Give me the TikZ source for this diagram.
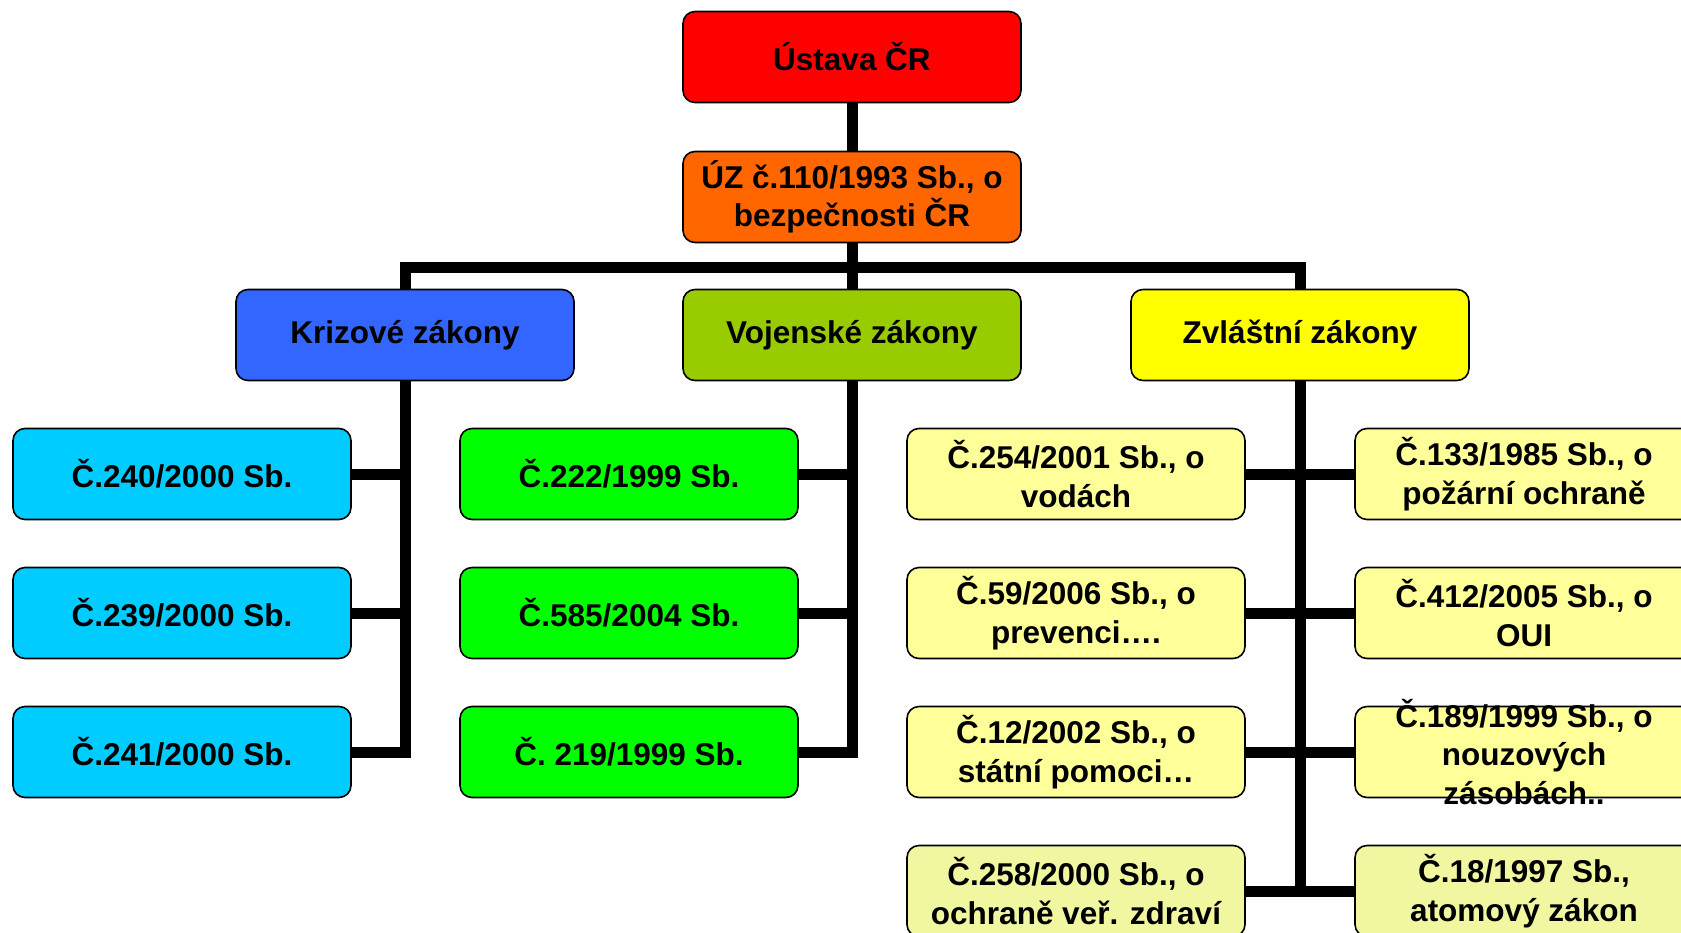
\documentclass[tikz,border=0pt]{standalone}
\usepackage{fontspec}
\setmainfont{Liberation Sans}

\definecolor{ustavared}{HTML}{FF0000}
\definecolor{uzorange}{HTML}{FF6600}
\definecolor{krizeblue}{HTML}{3366FF}
\definecolor{vojskoolive}{HTML}{99CC00}
\definecolor{zvlastyellow}{HTML}{FFFF00}
\definecolor{krizesky}{HTML}{00CCFF}
\definecolor{vojskogreen}{HTML}{00FF00}
\definecolor{zvlastpale}{HTML}{FFFF99}
\definecolor{zvlastlime}{HTML}{F0F7A0}

\begin{document}
\begin{tikzpicture}[x=0.5pt, y=-0.5pt,
  lawfont/.style = {font=\bfseries\fontsize{15.75}{19.3}\selectfont},
  box/.style = {draw, line width=0.8pt, rounded corners=6pt, lawfont,
    minimum width=169pt, minimum height=45.5pt, inner sep=0pt, align=center},
  ustava/.style = {box, fill=ustavared},
  uz/.style = {box, fill=uzorange},
  krize/.style = {box, fill=krizeblue},
  vojsko/.style = {box, fill=vojskoolive},
  zvlast/.style = {box, fill=zvlastyellow},
  krizebox/.style = {box, fill=krizesky},
  vojskobox/.style = {box, fill=vojskogreen},
  zvlastbox/.style = {box, fill=zvlastpale},
  zvlastlast/.style = {box, fill=zvlastlime},
  wire/.style = {line width=5.5pt},
  ]
  \useasboundingbox (0,0) rectangle (1681,932);

  \node[ustava] (ustava) at (852,57) {Ústava ČR};
  \node[uz] (uz) at (852,197) {ÚZ č.110/1993 Sb., o\\bezpečnosti ČR};
  \node[krize] (krize) at (405,335) {Krizové zákony};
  \node[vojsko] (vojsko) at (852,335) {Vojenské zákony};
  \node[zvlast] (zvlast) at (1300,335) {Zvláštní zákony};
  \coordinate (bar) at (852,267);

  \node[krizebox] (k1) at (182,474) {Č.240/2000 Sb.};
  \node[krizebox] (k2) at (182,613) {Č.239/2000 Sb.};
  \node[krizebox] (k3) at (182,752) {Č.241/2000 Sb.};

  \node[vojskobox] (v1) at (629,474) {Č.222/1999 Sb.};
  \node[vojskobox] (v2) at (629,613) {Č.585/2004 Sb.};
  \node[vojskobox] (v3) at (629,752) {Č. 219/1999 Sb.};

  \node[zvlastbox] (zl1) at (1076,474) {Č.254/2001 Sb., o\\vodách};
  \node[zvlastbox] (zl2) at (1076,613) {Č.59/2006 Sb., o\\prevenci….};
  \node[zvlastbox] (zl3) at (1076,752) {Č.12/2002 Sb., o\\státní pomoci…};
  \node[zvlastlast] (zl4) at (1076,891) {Č.258/2000 Sb., o\\ochraně veř. zdraví};

  \node[zvlastbox] (zr1) at (1524,474) {Č.133/1985 Sb., o\\požární ochraně};
  \node[zvlastbox] (zr2) at (1524,613) {Č.412/2005 Sb., o\\OUI};
  \node[zvlastbox] (zr3) at (1524,752) {};
  \node[lawfont, align=center] (zr3text) at (zr3)
    {Č.189/1999 Sb., o\\nouzových\\zásobách..};
  \node[zvlastlast] (zr4) at (1524,891) {Č.18/1997 Sb.,\\atomový zákon};

  \draw[wire] (ustava.south) -- (uz.north);
  \draw[wire] (uz.south) -- (vojsko.north);
  \draw[wire] (krize.north) |- (bar) -| (zvlast.north);

  \draw[wire] (krize.south) |- (k3.east);
  \draw[wire] (k1.east) -- (k1.east -| krize.south);
  \draw[wire] (k2.east) -- (k2.east -| krize.south);

  \draw[wire] (vojsko.south) |- (v3.east);
  \draw[wire] (v1.east) -- (v1.east -| vojsko.south);
  \draw[wire] (v2.east) -- (v2.east -| vojsko.south);

  \draw[wire] (zvlast.south) -- (zvlast.south |- zl4.east);
  \draw[wire] (zl1.east) -- (zr1.west);
  \draw[wire] (zl2.east) -- (zr2.west);
  \draw[wire] (zl3.east) -- (zr3.west);
  \draw[wire] (zl4.east) -- (zr4.west);
\end{tikzpicture}
\end{document}
